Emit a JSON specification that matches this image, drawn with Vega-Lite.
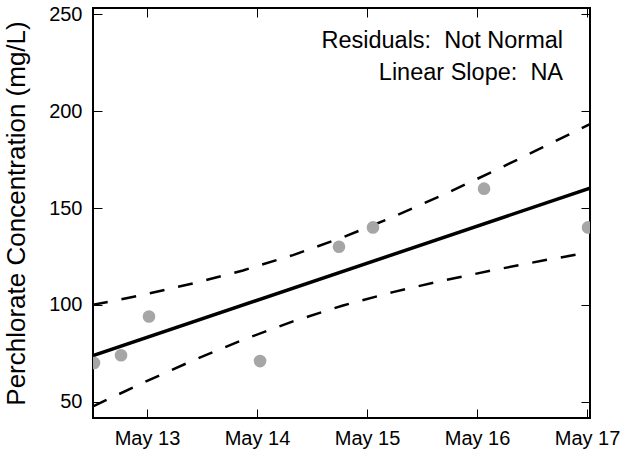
{
  "$schema": "https://vega.github.io/schema/vega-lite/v6.json",
  "width": 497,
  "height": 410,
  "autosize": {"type": "none"},
  "padding": {"left": 93, "top": 8, "right": 32, "bottom": 36},
  "config": {
    "font": "Liberation Sans",
    "view": {"stroke": "black", "strokeWidth": 2},
    "axis": {
      "domain": false,
      "grid": false,
      "tickColor": "black",
      "tickWidth": 1,
      "tickSize": -9,
      "labelColor": "black",
      "labelFont": "Liberation Sans",
      "labelFontSize": 20,
      "titleFont": "Liberation Sans",
      "titleFontWeight": "normal",
      "titleColor": "black"
    }
  },
  "datasets": {
    "obs": [
      {"date": "2015-05-12T12:26:00Z", "conc": 70},
      {"date": "2015-05-12T18:20:00Z", "conc": 74},
      {"date": "2015-05-13T00:26:00Z", "conc": 94},
      {"date": "2015-05-14T00:40:00Z", "conc": 71},
      {"date": "2015-05-14T17:53:00Z", "conc": 130},
      {"date": "2015-05-15T01:18:00Z", "conc": 140},
      {"date": "2015-05-16T01:32:00Z", "conc": 160},
      {"date": "2015-05-17T00:13:00Z", "conc": 140}
    ],
    "fit": [
      {"date": "2015-05-12T12:13:00Z", "conc": 73.8},
      {"date": "2015-05-17T00:39:00Z", "conc": 160.3}
    ],
    "band": [
      {"bound": "upper", "date": "2015-05-12T12:13:00Z", "conc": 100.0},
      {"bound": "upper", "date": "2015-05-12T23:08:00Z", "conc": 105.2},
      {"bound": "upper", "date": "2015-05-13T10:02:00Z", "conc": 111.1},
      {"bound": "upper", "date": "2015-05-13T20:57:00Z", "conc": 117.8},
      {"bound": "upper", "date": "2015-05-14T07:51:00Z", "conc": 125.7},
      {"bound": "upper", "date": "2015-05-14T18:46:00Z", "conc": 134.9},
      {"bound": "upper", "date": "2015-05-15T05:40:00Z", "conc": 145.4},
      {"bound": "upper", "date": "2015-05-15T16:35:00Z", "conc": 156.8},
      {"bound": "upper", "date": "2015-05-16T03:29:00Z", "conc": 168.9},
      {"bound": "upper", "date": "2015-05-16T14:24:00Z", "conc": 181.4},
      {"bound": "upper", "date": "2015-05-17T00:39:00Z", "conc": 193.4},
      {"bound": "lower", "date": "2015-05-12T12:13:00Z", "conc": 47.6},
      {"bound": "lower", "date": "2015-05-12T23:08:00Z", "conc": 59.8},
      {"bound": "lower", "date": "2015-05-13T10:02:00Z", "conc": 71.3},
      {"bound": "lower", "date": "2015-05-13T20:57:00Z", "conc": 82.0},
      {"bound": "lower", "date": "2015-05-14T07:51:00Z", "conc": 91.5},
      {"bound": "lower", "date": "2015-05-14T18:46:00Z", "conc": 99.7},
      {"bound": "lower", "date": "2015-05-15T05:40:00Z", "conc": 106.6},
      {"bound": "lower", "date": "2015-05-15T16:35:00Z", "conc": 112.6},
      {"bound": "lower", "date": "2015-05-16T03:29:00Z", "conc": 117.9},
      {"bound": "lower", "date": "2015-05-16T14:24:00Z", "conc": 122.9},
      {"bound": "lower", "date": "2015-05-17T00:39:00Z", "conc": 127.2}
    ],
    "notes": [
      {"label": "Residuals:\u00a0 Not Normal", "date": "2015-05-16T18:46:00Z", "conc": 232.9},
      {"label": "Linear Slope:\u00a0 NA", "date": "2015-05-16T18:46:00Z", "conc": 216.2}
    ]
  },
  "resolve": {"axis": {"x": "independent", "y": "independent"}},
  "layer": [
    {
      "data": {"name": "band"},
      "mark": {"type": "line", "color": "black", "strokeWidth": 2.5, "strokeDash": [15, 14], "clip": true},
      "encoding": {
        "x": {"field": "date", "type": "temporal",
          "scale": {"type": "utc", "domain": [{"year": 2015, "month": 5, "date": 12, "hours": 12, "minutes": 13, "utc": true}, {"year": 2015, "month": 5, "date": 17, "hours": 0, "minutes": 39, "utc": true}]},
          "axis": {
            "orient": "bottom",
            "title": null,
            "format": "%b %d",
            "labelPadding": 19,
            "values": [
              {"year": 2015, "month": 5, "date": 13, "utc": true},
              {"year": 2015, "month": 5, "date": 14, "utc": true},
              {"year": 2015, "month": 5, "date": 15, "utc": true},
              {"year": 2015, "month": 5, "date": 16, "utc": true},
              {"year": 2015, "month": 5, "date": 17, "utc": true}
            ]
          }
        },
        "y": {"field": "conc", "type": "quantitative",
          "scale": {"domain": [41.6, 253.3], "nice": false, "zero": false},
          "axis": {
            "orient": "left",
            "title": "Perchlorate Concentration (mg/L)",
            "titleFontSize": 26,
            "titlePadding": 19,
            "labelPadding": 20,
            "values": [50, 100, 150, 200, 250]
          }
        },
        "detail": {"field": "bound"}
      }
    },
    {
      "data": {"name": "fit"},
      "mark": {"type": "line", "color": "black", "strokeWidth": 3.5, "clip": true},
      "encoding": {
        "x": {"field": "date", "type": "temporal", "axis": null},
        "y": {"field": "conc", "type": "quantitative", "axis": null}
      }
    },
    {
      "data": {"name": "obs"},
      "mark": {"type": "circle", "color": "#a6a6a6", "opacity": 1, "size": 160, "clip": true},
      "encoding": {
        "x": {"field": "date", "type": "temporal",
          "axis": {
            "orient": "top",
            "title": null,
            "labels": false,
            "values": [
              {"year": 2015, "month": 5, "date": 13, "utc": true},
              {"year": 2015, "month": 5, "date": 14, "utc": true},
              {"year": 2015, "month": 5, "date": 15, "utc": true},
              {"year": 2015, "month": 5, "date": 16, "utc": true},
              {"year": 2015, "month": 5, "date": 17, "utc": true}
            ]
          }
        },
        "y": {"field": "conc", "type": "quantitative",
          "axis": {"orient": "right", "title": null, "labels": false, "values": [50, 100, 150, 200, 250]}
        }
      }
    },
    {
      "data": {"name": "notes"},
      "mark": {"type": "text", "align": "right", "baseline": "alphabetic", "fontSize": 23.5, "color": "black", "font": "Liberation Sans"},
      "encoding": {
        "x": {"field": "date", "type": "temporal", "axis": null},
        "y": {"field": "conc", "type": "quantitative", "axis": null},
        "text": {"field": "label"}
      }
    }
  ]
}
